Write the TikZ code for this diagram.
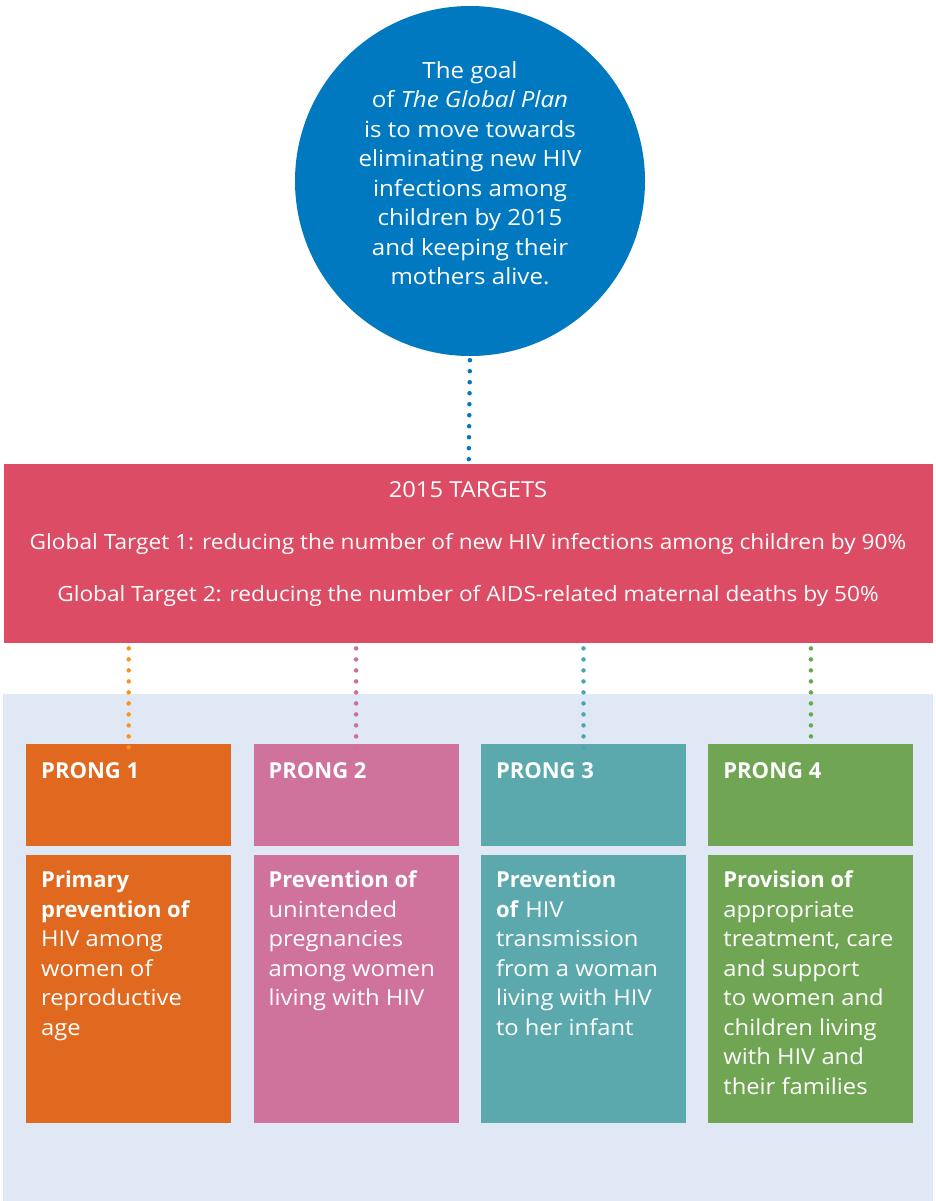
\documentclass[tikz,border=0pt]{standalone}
\usepackage{fontspec}
\setmainfont{Open Sans}[UprightFeatures={FakeStretch=1.08}, ItalicFeatures={FakeStretch=1.08}]
\usetikzlibrary{positioning}

\definecolor{goalblue}{HTML}{0079C1}
\definecolor{targetred}{HTML}{DC4C64}
\definecolor{panelblue}{HTML}{E1E8F5}
\definecolor{prongorange}{HTML}{E0691F}
\definecolor{prongpink}{HTML}{CF739D}
\definecolor{prongteal}{HTML}{5BA9AD}
\definecolor{pronggreen}{HTML}{70A554}
\definecolor{dotorange}{HTML}{F7941D}
\definecolor{dotpink}{HTML}{CE6FA0}
\definecolor{dotteal}{HTML}{4AA6AC}
\definecolor{dotgreen}{HTML}{6AAA4F}

\tikzset{
  prongbox/.style={rectangle, minimum width=205pt, inner sep=0pt},
  headbox/.style={prongbox, minimum height=102pt},
  bodybox/.style={prongbox, minimum height=268pt},
  prongtitle/.style={text=white, font=\fontsize{22}{29.5}\selectfont\bfseries, inner sep=0pt, anchor=base west},
  prongtxt/.style={text=white, font=\fontsize{22}{29.5}\selectfont, align=left, inner sep=0pt, anchor=north west},
  tgttxt/.style={text=white, font=\fontsize{21}{26}\selectfont, inner sep=0pt, anchor=base},
  dots/.style={line width=4.5pt, line cap=round, dash pattern=on 0pt off 11pt},
}

\begin{document}
\begin{tikzpicture}[x=1pt,y=-1pt]
\useasboundingbox (0,0) rectangle (935,1201);
\fill[white] (0,0) rectangle (935,1201);

% Background panel behind the prongs
\fill[panelblue] (3,694) rectangle (933,1201);

% Goal circle
\node[circle, fill=goalblue, minimum size=350pt, inner sep=0pt] (goal) at (470,181) {};
\node[text=white, font=\fontsize{22.3}{29.5}\selectfont, align=center, inner sep=0pt, anchor=north] (goaltext) at (470,57.3)
  {\strut The goal\\ of \textit{The Global Plan}\\ is to move towards\\ eliminating new HIV\\ infections among\\ children by 2015\\ and keeping their\\ mothers alive.};

% Targets box
\node[rectangle, fill=targetred, minimum width=929pt, minimum height=179pt, inner sep=0pt, anchor=north west] (targets) at (4,464) {};
\node[tgttxt, font=\fontsize{22}{26}\selectfont] (tgthead) at (468,497) {2015 TARGETS};
\node[tgttxt] (tgtone) at (468,549) {Global Target 1: reducing the number of new HIV infections among children by 90\%};
\node[tgttxt] (tgttwo) at (468,601) {Global Target 2: reducing the number of AIDS-related maternal deaths by 50\%};

% Prong boxes
\node[headbox, fill=prongorange, anchor=north west] (p1head) at (26,744) {};
\node[headbox, fill=prongpink, right=22pt of p1head] (p2head) {};
\node[headbox, fill=prongteal, right=22pt of p2head] (p3head) {};
\node[headbox, fill=pronggreen, right=22pt of p3head] (p4head) {};
\node[bodybox, fill=prongorange, below=8pt of p1head] (p1body) {};
\node[bodybox, fill=prongpink, below=8pt of p2head] (p2body) {};
\node[bodybox, fill=prongteal, below=8pt of p3head] (p3body) {};
\node[bodybox, fill=pronggreen, below=8pt of p4head] (p4body) {};

% Prong titles
\node[prongtitle] (p1title) at ([xshift=15pt,yshift=-34pt]p1head.north west) {PRONG 1};
\node[prongtitle] (p2title) at ([xshift=15pt,yshift=-34pt]p2head.north west) {PRONG 2};
\node[prongtitle] (p3title) at ([xshift=15pt,yshift=-34pt]p3head.north west) {PRONG 3};
\node[prongtitle] (p4title) at ([xshift=15pt,yshift=-34pt]p4head.north west) {PRONG 4};

% Prong texts
\node[prongtxt] (p1text) at ([xshift=15pt,yshift=-12.4pt]p1body.north west)
  {\strut\textbf{Primary}\\ \textbf{prevention of}\\ HIV among\\ women of\\ reproductive\\ age};
\node[prongtxt] (p2text) at ([xshift=15pt,yshift=-12.4pt]p2body.north west)
  {\strut\textbf{Prevention of}\\ unintended\\ pregnancies\\ among women\\ living with HIV};
\node[prongtxt] (p3text) at ([xshift=15pt,yshift=-12.4pt]p3body.north west)
  {\strut\textbf{Prevention}\\ \textbf{of} HIV\\ transmission\\ from a woman\\ living with HIV\\ to her infant};
\node[prongtxt] (p4text) at ([xshift=15pt,yshift=-12.4pt]p4body.north west)
  {\strut\textbf{Provision of}\\ appropriate\\ treatment, care\\ and support\\ to women and\\ children living\\ with HIV and\\ their families};

% Dotted connectors
\draw[dots, goalblue, shorten <=4pt, shorten >=4pt] (goal.south) -- (targets.north);
\draw[dots, dotorange, shorten <=5pt, shorten >=-4pt] (targets.south -| p1head.north) -- (p1head.north);
\draw[dots, dotpink, shorten <=5pt, shorten >=-4pt] (targets.south -| p2head.north) -- (p2head.north);
\draw[dots, dotteal, shorten <=5pt, shorten >=-4pt] (targets.south -| p3head.north) -- (p3head.north);
\draw[dots, dotgreen, shorten <=5pt, shorten >=-4pt] (targets.south -| p4head.north) -- (p4head.north);
\end{tikzpicture}
\end{document}
